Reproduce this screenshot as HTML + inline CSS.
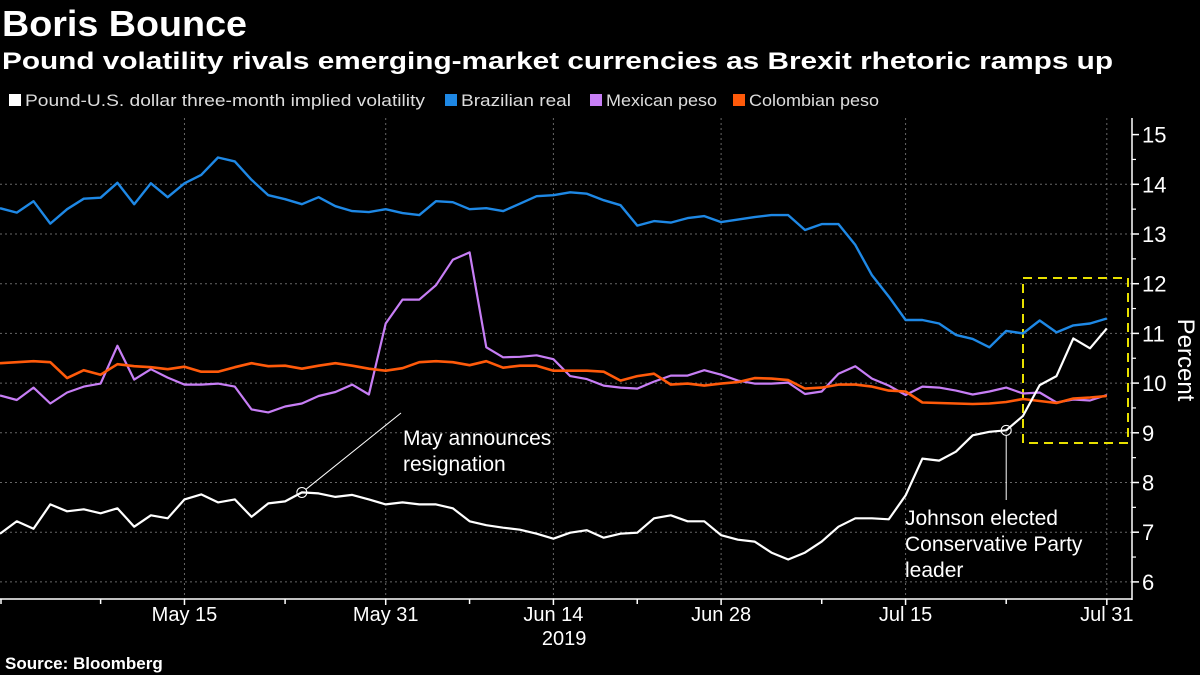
<!DOCTYPE html>
<html><head><meta charset="utf-8">
<style>
html,body{margin:0;padding:0;background:#000;}
svg{display:block;font-family:"Liberation Sans","DejaVu Sans",sans-serif;}
</style></head>
<body>
<svg id="chart" width="1200" height="675" viewBox="0 0 1200 675">
  <text x="2" y="36" fill="#fff" font-size="36" font-weight="bold" textLength="245" lengthAdjust="spacingAndGlyphs">Boris Bounce</text>
  <text x="2" y="69" fill="#fff" font-size="24" font-weight="bold" textLength="1111" lengthAdjust="spacingAndGlyphs">Pound volatility rivals emerging-market currencies as Brexit rhetoric ramps up</text>
  <g id="legend"></g>
  <g id="grid"></g>
  <g id="axes"></g>
  <rect x="1023" y="278" width="105" height="165" fill="none" stroke="#e8e000" stroke-width="2" stroke-dasharray="9,6"/>
  <g id="series"></g>
  <g id="annot"></g>
  <text x="5" y="669" fill="#fff" font-size="17" font-weight="bold">Source: Bloomberg</text>
</svg>
<script>
const dateTickIdx = [11, 23, 33, 43, 54, 66];
const dateTickLabels = ["May 15", "May 31", "Jun 14", "Jun 28", "Jul 15", "Jul 31"];
const minorTickIdx = [0, 6, 17, 28, 38, 49, 60];
const yTicks = [6, 7, 8, 9, 10, 11, 12, 13, 14, 15];
const seriesNames = ["Pound-U.S. dollar three-month implied volatility", "Brazilian real", "Mexican peso", "Colombian peso"];
const gbpVol = [6.97,7.22,7.07,7.56,7.42,7.46,7.38,7.48,7.11,7.34,7.28,7.66,7.76,7.60,7.66,7.31,7.58,7.62,7.80,7.78,7.71,7.75,7.66,7.56,
  7.60,7.56,7.56,7.48,7.22,7.14,7.09,7.05,6.97,6.87,6.99,7.04,6.89,6.97,6.99,7.28,7.34,7.22,7.22,6.94,6.85,6.81,6.59,
  6.45,6.59,6.81,7.11,7.28,7.28,7.26,7.74,8.48,8.44,8.62,8.95,9.02,9.05,9.34,9.96,10.14,10.90,10.70,11.10];
const brlVol = [13.52,13.43,13.66,13.21,13.50,13.71,13.73,14.03,13.60,14.02,13.74,14.02,14.19,14.54,14.46,14.09,13.78,13.70,13.60,13.74,13.56,13.46,13.44,13.50,
  13.42,13.38,13.66,13.64,13.50,13.52,13.46,13.61,13.76,13.78,13.84,13.81,13.68,13.58,13.17,13.26,13.23,13.32,13.36,13.24,13.29,13.34,13.38,
  13.38,13.08,13.20,13.20,12.78,12.17,11.74,11.27,11.27,11.20,10.97,10.89,10.72,11.05,11.00,11.26,11.02,11.16,11.20,11.30];
const mxnVol = [9.75,9.66,9.91,9.59,9.81,9.93,9.99,10.75,10.07,10.28,10.11,9.97,9.97,9.99,9.93,9.47,9.41,9.53,9.59,9.74,9.82,9.97,9.77,11.20,
  11.68,11.68,11.97,12.48,12.63,10.72,10.52,10.53,10.56,10.48,10.14,10.08,9.95,9.91,9.89,10.03,10.15,10.15,10.26,10.17,10.05,9.99,9.99,
  10.01,9.78,9.83,10.19,10.34,10.09,9.95,9.76,9.93,9.91,9.85,9.77,9.83,9.91,9.79,9.81,9.61,9.67,9.65,9.76];
const copVol = [10.40,10.42,10.44,10.42,10.10,10.26,10.17,10.38,10.34,10.32,10.28,10.33,10.23,10.23,10.32,10.40,10.34,10.35,10.29,10.35,10.40,10.35,10.29,10.25,
  10.30,10.42,10.44,10.42,10.36,10.44,10.31,10.35,10.35,10.25,10.25,10.25,10.23,10.05,10.14,10.19,9.97,9.99,9.95,9.99,10.02,10.10,10.09,
  10.06,9.89,9.91,9.97,9.97,9.93,9.85,9.83,9.61,9.60,9.59,9.58,9.59,9.62,9.68,9.64,9.60,9.69,9.71,9.74];
const annotIdx = [18, 60];

const NS = "http://www.w3.org/2000/svg";
const X0 = 0, XSTEP = 16.77;
const x = i => X0 + i * XSTEP;
const y = v => 184.3 + (14 - v) * 49.7;
function mk(tag, attrs, parent) {
  const e = document.createElementNS(NS, tag);
  for (const k in attrs) e.setAttribute(k, attrs[k]);
  parent.appendChild(e);
  return e;
}
const grid = document.getElementById("grid");
const axes = document.getElementById("axes");
const series = document.getElementById("series");
const annot = document.getElementById("annot");
const legend = document.getElementById("legend");

yTicks.forEach(v => {
  if (v < 15) {
    const g = mk("line", {x1: 0, x2: 1132, y1: y(v), y2: y(v), stroke: "#666", "stroke-width": 1, "stroke-dasharray": "2,3"}, grid);
    
    
    const m = mk("line", {x1: 1132, x2: 1136, y1: y(v + 0.5), y2: y(v + 0.5), stroke: "#fff", "stroke-width": 1.2}, axes);
    
    
  }
  const t = mk("line", {x1: 1132, x2: 1139, y1: y(v), y2: y(v), stroke: "#fff", "stroke-width": 1.5}, axes);
  
  
  const l = mk("text", {x: 1142, y: y(v) + 8, fill: "#fff", "font-size": 22}, axes);
  l.textContent = v;
  
  
});
const yl = mk("line", {x1: 1132, x2: 1132, y1: 118, y2: 600, stroke: "#fff", "stroke-width": 1.5}, axes);


const pt = mk("text", {x: 0, y: 0, fill: "#fff", "font-size": 24, "text-anchor": "middle", transform: "translate(1178,360) rotate(90)"}, axes);
pt.textContent = "Percent";



const xl = mk("line", {x1: 0, x2: 1132, y1: 599, y2: 599, stroke: "#fff", "stroke-width": 1.5}, axes);


dateTickIdx.forEach((i, k) => {
  const g = mk("line", {x1: x(i), x2: x(i), y1: 118, y2: 599, stroke: "#666", "stroke-width": 1, "stroke-dasharray": "2,3"}, grid);
  
  
  const t = mk("line", {x1: x(i), x2: x(i), y1: 599, y2: 605, stroke: "#fff", "stroke-width": 1.5}, axes);
  
  
  const l = mk("text", {x: x(i), y: 621, fill: "#fff", "font-size": 20, "text-anchor": "middle"}, axes);
  l.textContent = dateTickLabels[k];
  
  
});
minorTickIdx.forEach(i => {
  const t = mk("line", {x1: x(i) + (i === 0 ? 1 : 0), x2: x(i) + (i === 0 ? 1 : 0), y1: 599, y2: 604, stroke: "#fff", "stroke-width": 1.5}, axes);
  
  
});
const yr = mk("text", {x: x(dateTickIdx[2]) + 33, y: 645, fill: "#fff", "font-size": 20, "text-anchor": "end"}, axes);
yr.textContent = "2019";



const colors = ["#ffffff", "#1e88e5", "#c77ef5", "#ff5a0a"];
const widths = [2.2, 2.4, 2.2, 2.6];
const data = [gbpVol, brlVol, mxnVol, copVol];
const names = ["gbp-vol-line", "brl-vol-line", "mxn-vol-line", "cop-vol-line"];
[1, 2, 3, 0].forEach(s => {
  const d = data[s].map((v, i) => (i ? "L" : "M") + x(i).toFixed(1) + "," + y(v).toFixed(1)).join("");
  const p = mk("path", {d: d, fill: "none", stroke: colors[s], "stroke-width": widths[s], "stroke-linejoin": "round"}, series);
  
  
});

const a1x = x(annotIdx[0]), a1y = y(gbpVol[annotIdx[0]]);
const c1 = mk("circle", {cx: a1x, cy: a1y, r: 5, fill: "none", stroke: "#fff", "stroke-width": 1}, annot);


const l1 = mk("line", {x1: a1x + 4, y1: a1y - 3, x2: 401, y2: 413, stroke: "#fff", "stroke-width": 1}, annot);


const t1 = mk("text", {x: 403, y: 445, fill: "#fff", "font-size": 21}, annot);
t1.innerHTML = '<tspan x="403" dy="0">May announces</tspan><tspan x="403" dy="26">resignation</tspan>';


const a2x = x(annotIdx[1]), a2y = y(gbpVol[annotIdx[1]]);
const c2 = mk("circle", {cx: a2x, cy: a2y, r: 5, fill: "none", stroke: "#fff", "stroke-width": 1}, annot);


const l2 = mk("line", {x1: a2x, y1: a2y + 5, x2: a2x, y2: 500, stroke: "#fff", "stroke-width": 1}, annot);


const t2 = mk("text", {x: 905, y: 525, fill: "#fff", "font-size": 21}, annot);
t2.innerHTML = '<tspan x="905" dy="0">Johnson elected</tspan><tspan x="905" dy="26">Conservative Party</tspan><tspan x="905" dy="26">leader</tspan>';



const legX = [9, 445, 590, 733];
const legW = [400, 110, 111, 130];
const legendNames = ["legend-gbp", "legend-brl", "legend-mxn", "legend-cop"];
seriesNames.forEach((n, k) => {
  const r = mk("rect", {x: legX[k], y: 94, width: 12, height: 12, fill: colors[k]}, legend);
  
  
  const t = mk("text", {x: legX[k] + 16, y: 106, fill: "#ddd", "font-size": 17, textLength: legW[k], lengthAdjust: "spacingAndGlyphs"}, legend);
  t.textContent = n;
  
  
});
</script>
</body></html>
